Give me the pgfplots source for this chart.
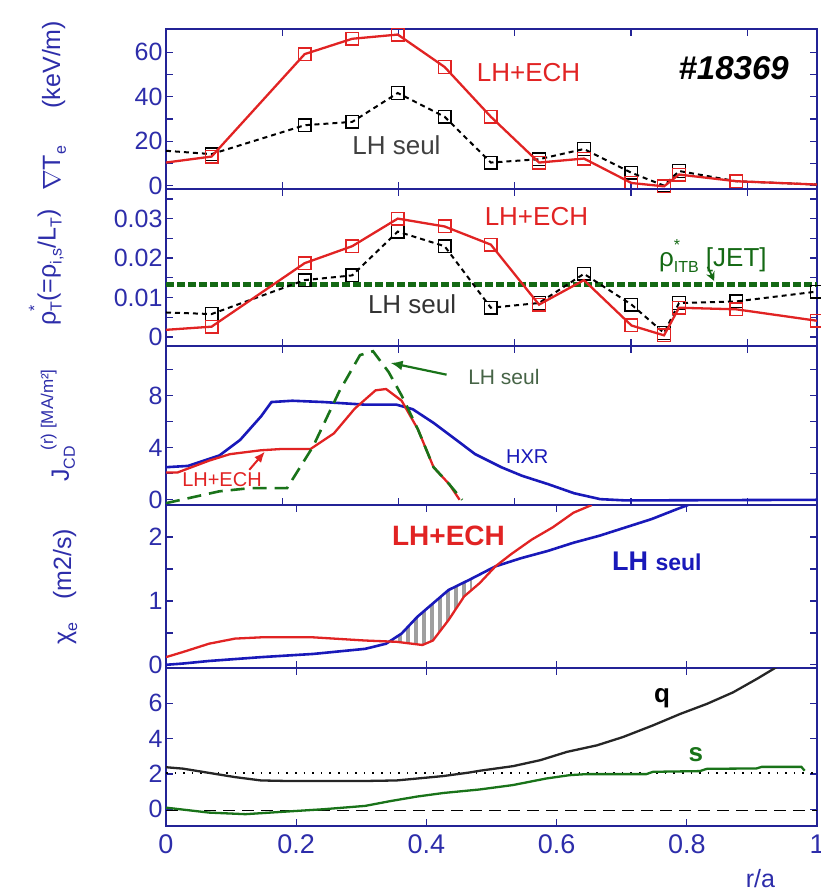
\documentclass[border=0pt]{standalone}
\usepackage{fontspec}
\setmainfont{Liberation Sans}
\usepackage{pgfplots}
\pgfplotsset{compat=1.18}
\usetikzlibrary{patterns.meta,arrows.meta}

\definecolor{navy}{RGB}{35,35,150}
\definecolor{tickblue}{RGB}{45,45,170}
\definecolor{myred}{RGB}{225,35,35}
\definecolor{hxr}{RGB}{25,25,185}
\definecolor{dgreen}{RGB}{25,115,25}
\definecolor{jgreen}{RGB}{20,105,20}
\definecolor{lhgreen}{RGB}{70,100,70}

\newcommand\fs[1]{\fontsize{#1}{#1}\selectfont}
\newcommand\lsub[2][16]{\raisebox{-0.45ex}{\fs{#1}#2}}
\newcommand\lsup[2][16]{\raisebox{1.2ex}{\fs{#1}#2}}

\pgfplotsset{
 panel/.style={scale only axis, width=651pt, xmin=0, xmax=1,
  clip mode=individual,
  axis line style={navy, line width=1.4pt},
  every tick/.style={navy, line width=1.3pt},
  major tick length=7pt, minor tick length=7pt, tick align=inside,
  xticklabels={}, scaled y ticks=false,
  yticklabel style={font=\fs{25}, text=tickblue},
  /pgf/number format/assume math mode=true,
  ylabel style={font=\fs{25}, text=tickblue, anchor=center},
  anchor=north west},
 toppanel/.style={panel, xtick={0.17857,0.35714,0.53571,0.71429,0.89286}},
 botpanel/.style={panel, xtick={0,0.2,0.4,0.6,0.8,1}},
 sq/.style={mark=square, mark size=6.3pt, mark options={solid, line width=1.4pt}},
}

\begin{document}
\begin{tikzpicture}
\path[use as bounding box] (0pt,0pt) rectangle (820pt,-892pt);

% ---------------- Panel 1 ----------------
\begin{axis}[toppanel, at={(166pt,-29pt)}, height=160pt,
  ymin=-1.5, ymax=70.5, ytick={0,20,40,60}, minor ytick={10,30,50},
  ylabel={$\nabla$T\lsub{e}\hspace{1.5em}(keV/m)},
  ylabel style={at={(axis description cs:-0.172,0.52)}}]
\addplot[black, line width=2pt, dash pattern=on 5pt off 4pt, sq,
  mark indices={2,3,4,5,6,7,8,9,10,11,12,13}] coordinates {
 (0,15.7)(0.070,14.2)(0.213,27.2)(0.286,28.7)(0.356,41.7)(0.428,31)(0.499,10.4)
 (0.573,11.9)(0.642,16.5)(0.715,5.8)(0.765,0)(0.788,6.6)(0.876,2)(1.0,0.5)};
\addplot[myred, line width=2.3pt, sq,
  mark indices={2,3,4,5,6,7,8,9,10,11,12,13}] coordinates {
 (0,10.4)(0.070,13.1)(0.213,59.2)(0.286,66.1)(0.356,68)(0.428,53.4)(0.499,31)
 (0.573,10.4)(0.642,12.2)(0.715,1.2)(0.765,-0.3)(0.788,5)(0.876,2)(1.0,0.5)};
\node[text=myred, font=\fs{26}] at (axis cs:0.557,50.8) {LH+ECH};
\node[text=black!75, font=\fs{26}] at (axis cs:0.354,18) {LH seul};
\node[font=\fs{33}\bfseries\itshape] at (axis cs:0.872,53) {\#18369};
\end{axis}

% ---------------- Panel 2 ----------------
\begin{axis}[toppanel, at={(166pt,-189pt)}, height=157pt,
  ymin=-0.0023, ymax=0.0375, ytick={0,0.01,0.02,0.03},
  yticklabels={0,0.01,0.02,0.03}, minor ytick={0.005,0.015,0.025,0.035},
  ylabel={ρ\rlap{\lsup{*}}\lsub{T}(=ρ\lsub{i,s}/L\lsub{T})},
  ylabel style={at={(axis description cs:-0.184,0.5)}}]
\addplot[jgreen, line width=5pt, dash pattern=on 8pt off 3pt] coordinates {(0,0.0132)(1,0.0132)};
\addplot[black, line width=2pt, dash pattern=on 5pt off 4pt, sq,
  mark indices={2,3,4,5,6,7,8,9,10,11,12,13,14}] coordinates {
 (0,0.0062)(0.070,0.0058)(0.213,0.0144)(0.286,0.0156)(0.356,0.0267)(0.428,0.023)
 (0.499,0.0074)(0.573,0.0086)(0.642,0.016)(0.715,0.0082)(0.765,0.001)(0.788,0.0086)
 (0.876,0.009)(1.0,0.0115)};
\addplot[myred, line width=2.3pt, sq,
  mark indices={2,3,4,5,6,7,8,10,11,12,13,14}] coordinates {
 (0,0.0018)(0.070,0.0026)(0.213,0.0187)(0.286,0.023)(0.356,0.030)(0.428,0.028)
 (0.499,0.0234)(0.573,0.0082)(0.642,0.0144)(0.715,0.0029)(0.765,0.0004)(0.788,0.0074)
 (0.876,0.007)(1.0,0.0041)};
\node[text=myred, font=\fs{26}] at (axis cs:0.569,0.0304) {LH+ECH};
\node[text=black!80, font=\fs{26}] at (axis cs:0.378,0.0082) {LH seul};
\node[text=jgreen, font=\fs{26}] at (axis cs:0.84,0.0205) {ρ\rlap{\lsup{*}}\lsub{ITB} [JET]};
\draw[jgreen, line width=1.8pt, -{Stealth[length=9pt,width=9pt]}] (axis cs:0.832,0.0178) -- (axis cs:0.842,0.0142);
\end{axis}

% ---------------- Panel 3 ----------------
\begin{axis}[toppanel, at={(166pt,-346pt)}, height=159pt,
  ymin=-0.4, ymax=11.8, ytick={0,4,8}, minor ytick={2,6,10},
  ylabel={J\rlap{\lsub{CD}}\hspace{0.75em}\lsup[17]{(r) [MA/m²]}},
  ylabel style={at={(axis description cs:-0.166,0.5)}}]
\addplot[hxr, line width=2.6pt] coordinates {
 (0,2.5)(0.034,2.6)(0.082,3.4)(0.114,4.6)(0.146,6.4)(0.162,7.5)(0.194,7.6)(0.242,7.5)
 (0.306,7.3)(0.354,7.3)(0.379,6.95)(0.411,5.9)(0.443,4.7)(0.475,3.5)(0.515,2.5)
 (0.547,1.84)(0.587,1.2)(0.627,0.5)(0.667,0.05)(0.707,-0.05)(1.0,0)};
\addplot[myred, line width=2.3pt] coordinates {
 (0,2.1)(0.018,2.1)(0.066,3.0)(0.098,3.5)(0.146,3.8)(0.178,3.9)(0.222,3.9)(0.258,5.1)
 (0.290,7.0)(0.322,8.4)(0.338,8.5)(0.362,7.6)(0.387,5.4)(0.411,2.5)(0.435,1.2)(0.451,0)};
\addplot[dgreen, line width=2.6pt, dash pattern=on 14pt off 8pt] coordinates {
 (0,-0.26)(0.082,0.65)(0.130,0.9)(0.186,0.9)(0.226,4.1)(0.266,8.3)(0.298,11.1)
 (0.318,11.4)(0.342,9.8)(0.362,8.0)(0.387,5.4)(0.411,2.5)(0.435,1.2)(0.455,0)};
\node[text=myred, font=\fs{20}] at (axis cs:0.086,1.57) {LH+ECH};
\draw[myred, line width=2pt, -{Latex[length=11pt,width=9pt]}] (axis cs:0.128,2.3) -- (axis cs:0.152,3.7);
\node[text=lhgreen, font=\fs{21}] at (axis cs:0.519,9.44) {LH seul};
\draw[dgreen, line width=2.2pt, -{Latex[length=12pt,width=10pt]}] (axis cs:0.431,9.6) -- (axis cs:0.345,10.5);
\node[text=hxr, font=\fs{20}] at (axis cs:0.555,3.28) {HXR};
\end{axis}

% ---------------- Panel 4 ----------------
\begin{axis}[botpanel, at={(166pt,-505pt)}, height=163pt,
  ymin=-0.05, ymax=2.5, ytick={0,1,2}, minor ytick={0.5,1.5},
  ylabel={χ\lsub{e}\hspace{0.9em}(m2/s)},
  ylabel style={at={(axis description cs:-0.155,0.5)}}]
\addplot[pattern={Lines[angle=90,distance=8pt,line width=4.5pt]}, pattern color=gray!75, draw=none]
 coordinates {(0.342,0.36)(0.362,0.49)(0.386,0.75)(0.410,0.96)(0.434,1.17)(0.466,1.33)
 (0.47,1.35)(0.47,1.175)(0.458,1.07)(0.434,0.7)(0.410,0.38)(0.394,0.31)(0.354,0.36)(0.342,0.36)};
\addplot[hxr, line width=2.6pt] coordinates {
 (0,0)(0.026,0.02)(0.066,0.06)(0.146,0.12)(0.226,0.17)(0.306,0.25)(0.338,0.33)
 (0.362,0.49)(0.386,0.75)(0.410,0.96)(0.434,1.17)(0.466,1.33)(0.506,1.54)(0.546,1.67)
 (0.586,1.78)(0.626,1.91)(0.666,2.02)(0.706,2.15)(0.746,2.28)(0.786,2.44)(0.802,2.5)};
\addplot[myred, line width=2.3pt] coordinates {
 (0,0.12)(0.026,0.2)(0.066,0.33)(0.106,0.41)(0.146,0.43)(0.226,0.43)(0.306,0.38)
 (0.354,0.36)(0.394,0.31)(0.410,0.38)(0.434,0.7)(0.458,1.07)(0.482,1.28)(0.506,1.54)
 (0.530,1.73)(0.562,1.96)(0.594,2.15)(0.626,2.38)(0.654,2.5)};
\node[text=myred, font=\fs{28}\bfseries] at (axis cs:0.434,2.02) {LH+ECH};
\node[text=hxr, font=\fs{27}\bfseries] at (axis cs:0.754,1.62) {LH {\fs{23}seul}};
\end{axis}

% ---------------- Panel 5 ----------------
\begin{axis}[botpanel, at={(166pt,-668pt)}, height=158pt,
  ymin=-0.95, ymax=8.0, ytick={0,2,4,6},
  xticklabels={0,0.2,0.4,0.6,0.8,1},
  xticklabel style={font=\fs{27}, text=tickblue, yshift=-5pt}]
\addplot[black, line width=1.3pt, dash pattern=on 1.6pt off 7pt] coordinates {(0,2.05)(1,2.05)};
\addplot[black, line width=1.5pt, dash pattern=on 12pt off 7pt] coordinates {(0,-0.08)(1,-0.08)};
\addplot[black!85, line width=2.3pt] coordinates {
 (0,2.38)(0.026,2.3)(0.066,2.06)(0.106,1.82)(0.146,1.63)(0.186,1.6)(0.306,1.6)
 (0.354,1.63)(0.386,1.74)(0.426,1.88)(0.466,2.08)(0.482,2.18)(0.533,2.44)(0.575,2.78)
 (0.616,3.25)(0.662,3.62)(0.702,4.09)(0.748,4.75)(0.790,5.4)(0.831,5.97)(0.871,6.62)
 (0.907,7.37)(0.940,8.1)};
\addplot[dgreen, line width=2.3pt] coordinates {
 (0,0.09)(0.066,-0.19)(0.122,-0.28)(0.186,-0.13)(0.242,0)(0.306,0.19)(0.346,0.47)
 (0.386,0.72)(0.426,0.92)(0.482,1.12)(0.533,1.37)(0.584,1.74)(0.620,1.93)
 (0.646,1.99)(0.738,1.99)(0.748,2.12)(0.820,2.16)(0.831,2.29)(0.907,2.31)(0.915,2.4)
 (0.976,2.4)(0.981,2.18)};
\node[font=\fs{26}\bfseries] at (axis cs:0.762,6.3) {q};
\node[text=dgreen, font=\fs{26}\bfseries] at (axis cs:0.814,3.1) {s};
\node[text=tickblue, font=\fs{25}] at (axis description cs:0.913,-0.335) {r/a};
\end{axis}
\end{tikzpicture}
\end{document}
